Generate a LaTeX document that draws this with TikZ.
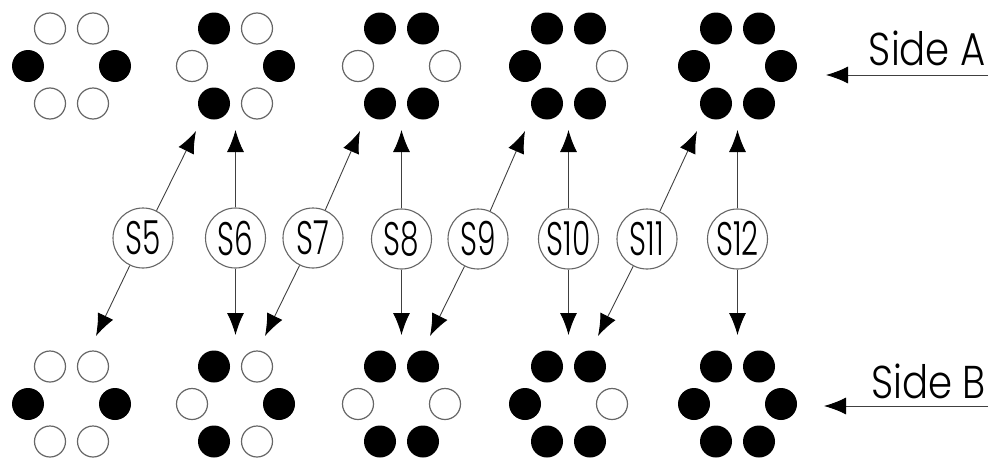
\documentclass[tikz,border=0pt]{standalone}
\usepackage{fontspec}
\newfontfamily\labfont{Poppins Light}
\usetikzlibrary{arrows.meta}
\tikzset{
  bk/.style={circle,fill=black,inner sep=0pt,minimum size=32pt},
  wt/.style={circle,draw=black!60,line width=1.2pt,fill=white,inner sep=0pt,minimum size=31pt},
  lab/.style={circle,draw=black!60,line width=1.1pt,fill=white,inner sep=0pt,minimum size=60pt,
    font=\labfont\fontsize{47}{47}\selectfont},
  sidetxt/.style={inner sep=0pt,anchor=east,font=\labfont\fontsize{46}{46}\selectfont},
  arr/.style={draw=black!75,line width=0.9pt,-{Latex[length=22pt,width=17pt,black]}},
}
\newcommand\hexgrp[9]{%
  \node[#4] (#1-1) at ({#2-21.5},{#3-37.5}) {};
  \node[#5] (#1-2) at ({#2+21.5},{#3-37.5}) {};
  \node[#6] (#1-3) at ({#2-43.5},{#3}) {};
  \node[#7] (#1-4) at ({#2+43.5},{#3}) {};
  \node[#8] (#1-5) at ({#2-21.5},{#3+37.5}) {};
  \node[#9] (#1-6) at ({#2+21.5},{#3+37.5}) {};
}
\newcommand\nlab[1]{\scalebox{0.63}[1]{#1}}
\begin{document}
\begin{tikzpicture}[x=1pt,y=-1pt]
\useasboundingbox (0,0) rectangle (993,458);
% Side A groups
\hexgrp{a1}{71.5}{66}{wt}{wt}{bk}{bk}{wt}{wt}
\hexgrp{a2}{235.5}{66}{bk}{wt}{wt}{bk}{bk}{wt}
\hexgrp{a3}{401.5}{66}{bk}{bk}{wt}{wt}{bk}{bk}
\hexgrp{a4}{568.5}{66}{bk}{bk}{bk}{wt}{bk}{bk}
\hexgrp{a5}{737.5}{66}{bk}{bk}{bk}{bk}{bk}{bk}
% Side B groups
\hexgrp{b1}{71.5}{404}{wt}{wt}{bk}{bk}{wt}{wt}
\hexgrp{b2}{235.5}{404}{bk}{wt}{wt}{bk}{bk}{wt}
\hexgrp{b3}{401.5}{404}{bk}{bk}{wt}{wt}{bk}{bk}
\hexgrp{b4}{568.5}{404}{bk}{bk}{bk}{wt}{bk}{bk}
\hexgrp{b5}{737.5}{404}{bk}{bk}{bk}{bk}{bk}{bk}
% labels
\node[lab] (s5) at (143,238) {\nlab{S5}};
\node[lab] (s6) at (235.5,238) {\nlab{S6}};
\node[lab] (s7) at (313,238) {\nlab{S7}};
\node[lab] (s8) at (401.5,239) {\nlab{S8}};
\node[lab] (s9) at (478,239) {\nlab{S9}};
\node[lab] (s10) at (568.5,239) {\nlab{S10}};
\node[lab] (s11) at (647,239) {\nlab{S11}};
\node[lab] (s12) at (737.5,239) {\nlab{S12}};
% arrow ends
\coordinate (u5) at (196,131);  \coordinate (d5) at (96,336);
\coordinate (u6) at (235.5,130); \coordinate (d6) at (235.5,335);
\coordinate (u7) at (360,131);  \coordinate (d7) at (265,336);
\coordinate (u8) at (401.5,130); \coordinate (d8) at (401.5,335);
\coordinate (u9) at (525,131);  \coordinate (d9) at (430,336);
\coordinate (u10) at (568.5,130); \coordinate (d10) at (568.5,335);
\coordinate (u11) at (697,131); \coordinate (d11) at (598,336);
\coordinate (u12) at (737.5,130); \coordinate (d12) at (737.5,335);
\foreach \k in {5,...,12}{
  \draw[arr] (s\k) -- (u\k);
  \draw[arr] (s\k) -- (d\k);
}
% sides
\node[sidetxt] (sideA) at (986,48) {\scalebox{0.84}[1]{Side A}};
\node[sidetxt] (sideB) at (986,381) {\scalebox{0.84}[1]{Side B}};
\coordinate (pa0) at (988,75); \coordinate (pa1) at (826,75);
\coordinate (pb0) at (988,406); \coordinate (pb1) at (824,406);
\draw[arr] (pa0) -- (pa1);
\draw[arr] (pb0) -- (pb1);
\end{tikzpicture}
\end{document}
